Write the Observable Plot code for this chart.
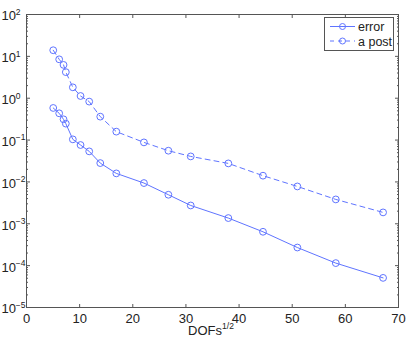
<!DOCTYPE html>
<html><head><meta charset="utf-8">
<script src="https://cdn.jsdelivr.net/npm/d3@7"></script>
<script src="https://cdn.jsdelivr.net/npm/@observablehq/plot@0.6"></script>
<style>body{margin:0;background:#fff} svg{display:block}</style>
</head><body><div id="chart"></div>
<script>
const dofs = [5.03, 6.15, 6.97, 7.4, 8.72, 10.17, 11.8, 13.88, 16.9, 22.1, 26.7, 30.9, 37.98, 44.5, 50.97, 58.2, 67.1];
const errorVals = [0.585, 0.436, 0.313, 0.247, 0.104, 0.0762, 0.0537, 0.0282, 0.016, 0.0094, 0.00494, 0.00274, 0.00137, 0.000644, 0.000271, 0.000115, 0.000051];
const apostVals = [14.0, 8.5, 6.25, 4.2, 1.82, 1.13, 0.83, 0.363, 0.159, 0.088, 0.0557, 0.0407, 0.0277, 0.0141, 0.0078, 0.00382, 0.00187];
const seriesNames = ["error", "a post"];
const xTicks = [0, 10, 20, 30, 40, 50, 60, 70];
const yExponents = [-5, -4, -3, -2, -1, 0, 1, 2];
const yTicks = yExponents.map(e => Math.pow(10, e));
const yMinor = [];
for (const e of yExponents.slice(0, -1)) for (let m = 2; m <= 9; m++) yMinor.push(m * Math.pow(10, e));

const color = "#5f74ff";
const axisColor = "#555";
const font = "'Liberation Sans', Arial, Helvetica, sans-serif";

const errData = dofs.map((x, i) => ({x, y: errorVals[i], s: seriesNames[0]}));
const apData = dofs.map((x, i) => ({x, y: apostVals[i], s: seriesNames[1]}));

const plot = Plot.plot({
  width: 408, height: 344,
  marginLeft: 26, marginRight: 10, marginTop: 14, marginBottom: 37,
  style: {fontFamily: font, color: "#222", background: "#fff"},
  x: {domain: [0, 70]},
  y: {type: "log", domain: [1e-5, 1e2]},
  marks: [
    Plot.line(errData, {x: "x", y: "y", stroke: color, strokeWidth: 1}),
    Plot.line(apData, {x: "x", y: "y", stroke: color, strokeWidth: 1, strokeDasharray: "5,4"}),
    Plot.dot(errData, {x: "x", y: "y", r: 3.4, stroke: color, strokeWidth: 1, fill: "none"}),
    Plot.dot(apData, {x: "x", y: "y", r: 3.4, stroke: color, strokeWidth: 1, fill: "none"}),
    Plot.axisX({ticks: xTicks, anchor: "bottom", tickSize: -3, tickFormat: () => "", label: null, stroke: axisColor}),
    Plot.axisX({ticks: xTicks, anchor: "top", tickSize: -3, tickFormat: () => "", label: null, stroke: axisColor}),
    Plot.axisY({ticks: yTicks, anchor: "left", tickSize: -4, tickFormat: () => "", label: null, stroke: axisColor}),
    Plot.axisY({ticks: yTicks, anchor: "right", tickSize: -4, tickFormat: () => "", label: null, stroke: axisColor}),
    Plot.axisY({ticks: yMinor, anchor: "left", tickSize: -2, tickFormat: () => "", label: null, stroke: axisColor}),
    Plot.axisY({ticks: yMinor, anchor: "right", tickSize: -2, tickFormat: () => "", label: null, stroke: axisColor}),
    Plot.text(xTicks, {x: d => d, text: d => String(d), frameAnchor: "bottom", lineAnchor: "top", dy: 6.5, fontSize: 13, fill: "#222"}),
    Plot.text(yTicks, {y: d => d, text: () => "10", frameAnchor: "left", textAnchor: "start", dx: -25, dy: 1.7, fontSize: 13, fill: "#222"}),
    Plot.text(yExponents, {y: e => Math.pow(10, e), text: e => (e < 0 ? "\u2212" + (-e) : String(e)), frameAnchor: "left", textAnchor: "start", dx: -10.7, dy: -2.4, fontSize: 8.5, fill: "#222"}),
    Plot.frame({stroke: axisColor, strokeWidth: 1})
  ]
});

const svg = d3.select(plot);
// x-axis label with superscript
const lab = svg.append("text").attr("x", 211).attr("y", 335).attr("text-anchor", "middle")
  .attr("font-family", font).attr("font-size", 13).attr("fill", "#222");
lab.append("tspan").text("DOFs");
lab.append("tspan").attr("dy", -6).attr("font-size", 8.5).text("1/2");

// legend
const lg = svg.append("g");
lg.append("rect").attr("x", 324.5).attr("y", 17.5).attr("width", 69).attr("height", 33)
  .attr("fill", "#fff").attr("stroke", axisColor);
seriesNames.forEach((name, i) => {
  const yy = 26.5 + i * 14.5;
  lg.append("line").attr("x1", 330).attr("x2", 355).attr("y1", yy).attr("y2", yy)
    .attr("stroke", color).attr("stroke-dasharray", i === 1 ? "4,4" : null);
  lg.append("circle").attr("cx", 342.5).attr("cy", yy).attr("r", 3).attr("fill", "none").attr("stroke", color);
  lg.append("text").attr("x", 358).attr("y", yy + 4.5).attr("text-anchor", "start")
    .attr("font-family", font).attr("font-size", 12.5).attr("fill", "#222").text(name);
});

document.getElementById("chart").appendChild(plot);
</script>
</body></html>
